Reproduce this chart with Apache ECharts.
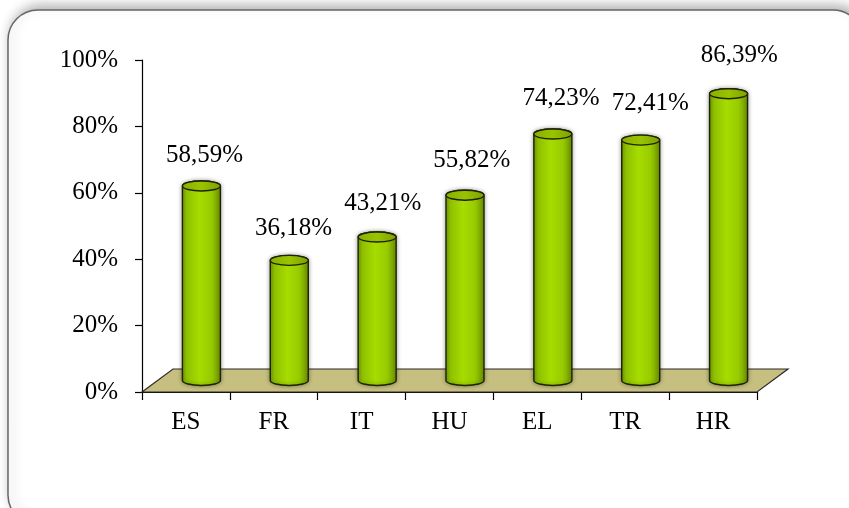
<!DOCTYPE html>
<html>
<head>
<meta charset="utf-8">
<script src="https://cdn.jsdelivr.net/npm/echarts@6/dist/echarts.min.js"></script>
<style>
  html, body { margin: 0; padding: 0; background: #fff; }
  #chart { width: 849px; height: 508px; }
</style>
</head>
<body>
<div id="chart"></div>
<script>
// Share of respondents per country
const categories = ['ES', 'FR', 'IT', 'HU', 'EL', 'TR', 'HR'];
const values = [58.59, 36.18, 43.21, 55.82, 74.23, 72.41, 86.39];
const yTicks = [0, 20, 40, 60, 80, 100];

const FONT = "'Liberation Serif', 'Times New Roman', serif";
// depth of the 3D floor (pixels)
const DEPTH_X = 31;
const DEPTH_Y = 23;
const CYL_R = 19;
const CYL_RY = 5;

function fmt(v) {
  return v.toFixed(2).replace('.', ',') + '%';
}

function renderFloor(params, api) {
  const cs = params.coordSys;
  const x0 = cs.x, y0 = cs.y + cs.height, x1 = cs.x + cs.width;
  return {
    type: 'polygon',
    shape: {
      points: [[x0, y0], [x0 + DEPTH_X, y0 - DEPTH_Y], [x1 + DEPTH_X, y0 - DEPTH_Y], [x1, y0]]
    },
    style: { fill: '#c6bf80', stroke: '#2b2b2b', lineWidth: 1.2 }
  };
}

function renderCylinder(params, api) {
  const i = api.value(0);
  const v = api.value(1);
  const base = api.coord([i, 0]);
  const top = api.coord([i, v]);
  const cx = base[0] + DEPTH_X / 2;
  const by = base[1] - DEPTH_Y / 2;
  const ty = top[1] - DEPTH_Y / 2;
  const L = cx - CYL_R, R = cx + CYL_R;
  const body = 'M' + L + ',' + ty + ' L' + L + ',' + by +
    ' A' + CYL_R + ',' + CYL_RY + ' 0 0 0 ' + R + ',' + by +
    ' L' + R + ',' + ty +
    ' A' + CYL_R + ',' + CYL_RY + ' 0 0 0 ' + L + ',' + ty + ' Z';
  const dx = 3 + 1.3 * params.dataIndex;
  const dy = 31 + 1.2 * params.dataIndex;
  return {
    type: 'group',
    children: [
      {
        type: 'path',
        shape: { pathData: body },
        style: {
          fill: new echarts.graphic.LinearGradient(0, 0, 1, 0, [
            { offset: 0, color: '#739f00' },
            { offset: 0.12, color: '#8ec000' },
            { offset: 0.45, color: '#a7dc00' },
            { offset: 0.75, color: '#98cb00' },
            { offset: 1, color: '#6c9200' }
          ]),
          stroke: '#1e2200',
          lineWidth: 1.4,
          shadowBlur: 4,
          shadowColor: 'rgba(0,0,0,0.35)'
        }
      },
      {
        type: 'ellipse',
        shape: { cx: cx, cy: ty, rx: CYL_R, ry: CYL_RY },
        style: {
          fill: new echarts.graphic.LinearGradient(0, 0, 1, 0, [
            { offset: 0, color: '#89ae00' },
            { offset: 0.5, color: '#99c400' },
            { offset: 1, color: '#7ca000' }
          ]),
          stroke: '#1e2200',
          lineWidth: 1.4
        }
      },
      {
        type: 'text',
        x: cx + dx,
        y: ty - dy,
        style: {
          text: fmt(v),
          font: '25px ' + FONT,
          fill: '#000',
          align: 'center',
          verticalAlign: 'middle'
        }
      }
    ]
  };
}

const chart = echarts.init(document.getElementById('chart'), null, { renderer: 'canvas' });
chart.setOption({
  backgroundColor: '#fff',
  animation: false,
  graphic: [
    {
      type: 'rect',
      z: -10,
      shape: { x: 8, y: 10, width: 855, height: 515, r: 30 },
      style: {
        fill: '#fff',
        stroke: '#666',
        lineWidth: 1.5,
        shadowBlur: 12,
        shadowOffsetX: 3,
        shadowOffsetY: -4,
        shadowColor: 'rgba(0,0,0,0.3)'
      }
    }
  ],
  grid: { left: 142, top: 60, width: 615, height: 332, containLabel: false },
  xAxis: {
    type: 'category',
    data: categories,
    boundaryGap: true,
    axisLine: { show: true, lineStyle: { color: '#000', width: 1.2 } },
    axisTick: { show: true, length: 8, inside: false, lineStyle: { color: '#000', width: 1.2 } },
    axisLabel: { margin: 18, color: '#000', fontSize: 25, fontFamily: FONT },
    splitLine: { show: false }
  },
  yAxis: {
    type: 'value',
    min: yTicks[0],
    max: yTicks[yTicks.length - 1],
    interval: 20,
    axisLine: { show: true, lineStyle: { color: '#000', width: 1.2 } },
    axisTick: { show: true, length: 7, lineStyle: { color: '#000', width: 1.2 } },
    axisLabel: { margin: 24, color: '#000', fontSize: 25, fontFamily: FONT, formatter: '{value}%' },
    splitLine: { show: false }
  },
  series: [
    {
      type: 'custom',
      z: 1,
      clip: false,
      renderItem: renderFloor,
      data: [[0, 0]]
    },
    {
      type: 'custom',
      z: 3,
      clip: false,
      renderItem: renderCylinder,
      encode: { x: 0, y: 1 },
      data: values.map((v, i) => [i, v])
    }
  ]
});
</script>
</body>
</html>
